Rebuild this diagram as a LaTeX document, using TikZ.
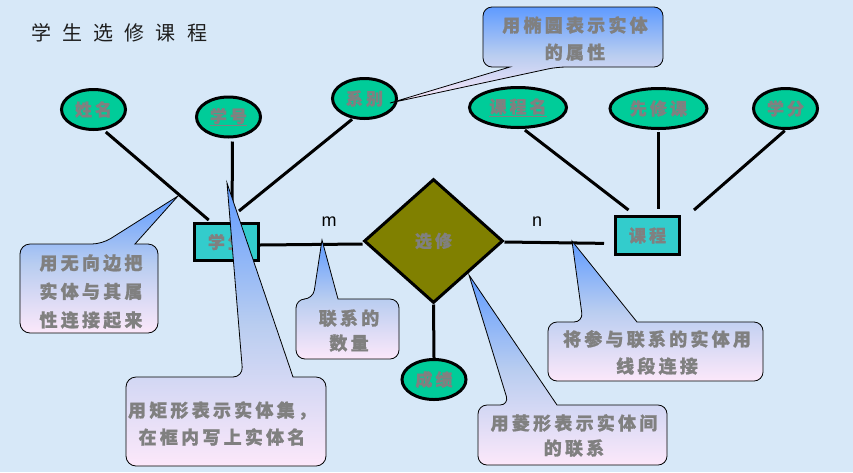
\documentclass[tikz,border=0pt]{standalone}
\usepackage{fontspec}
\usetikzlibrary{shapes.geometric}
\newfontfamily\cjkb[LetterSpace=18, BoldFeatures={FakeBold=1}]{Noto Sans CJK SC}
\newfontfamily\titlef[WordSpace=2.5]{Noto Sans CJK SC}
\newfontfamily\latf{Liberation Sans}
\definecolor{bg}{RGB}{215,232,248}
\definecolor{attr}{RGB}{0,204,153}
\definecolor{ent}{RGB}{51,204,204}
\definecolor{rel}{RGB}{128,128,0}
\definecolor{lab}{RGB}{128,128,128}
\definecolor{ctop}{RGB}{95,155,255}
\definecolor{cmid}{RGB}{185,205,240}
\definecolor{cbot}{RGB}{252,232,250}
\definecolor{titlec}{RGB}{30,30,30}
\begin{document}
\begin{tikzpicture}[x=1pt,y=-1pt,
  labfont/.style={text=lab, font=\cjkb\bfseries\fontsize{17}{20}\selectfont},
  attrnode/.style={ellipse, draw=black, line width=3pt, fill=attr, inner sep=0pt, minimum width=64pt, minimum height=40pt, labfont},
  entnode/.style={rectangle, draw=black, line width=3pt, fill=ent, inner sep=0pt, minimum width=64pt, minimum height=37pt, labfont},
  relnode/.style={diamond, draw=black, line width=3pt, fill=rel, inner sep=0pt, minimum width=139pt, minimum height=124pt, labfont},
  conn/.style={line width=3pt, black},
  callout/.style={draw=black, line width=0.8pt, top color=ctop, bottom color=cbot, middle color=cmid},
  calltext/.style={text=lab, font=\cjkb\bfseries\fontsize{18}{27}\selectfont, align=center, inner sep=0pt},
  cardtext/.style={font=\latf\fontsize{18}{20}\selectfont, inner sep=0pt}
]
\useasboundingbox (0,0) rectangle (853,472);
\fill[bg] (0,0) rectangle (853,472);

% title
\node[anchor=west, inner sep=0pt, text=titlec, font=\titlef\fontsize{20}{24}\selectfont] (title) at (31,33) {学 生 选 修 课 程};

% attributes
\node[attrnode] (xm) at (93.5,109.5) {姓名};
\node[attrnode] (xh) at (228.5,117) {\underline{学号}};
\node[attrnode] (xb) at (364.5,98.5) {系别};
\node[attrnode, minimum width=97pt] (km) at (518,107.5) {\underline{课程名}};
\node[attrnode, minimum width=97pt] (xx) at (658.5,108.5) {先修课};
\node[attrnode] (xf) at (785.5,108.5) {学分};
\node[attrnode] (cj) at (434,379.5) {成绩};

% entities and relationship
\node[entnode] (xs) at (226.5,242) {学生};
\node[entnode, minimum height=38pt] (kc) at (647.5,235.5) {课程};
\node[relnode] (xd) at (433.5,241) {选修};

% connectors
\draw[conn, shorten <=3pt, shorten >=3pt] (xm.-64) -- ([xshift=-15.5pt]xs.north);
\draw[conn, shorten <=3pt] ([xshift=4pt]xh.south) -- ([xshift=5.5pt]xs.north);
\draw[conn, shorten <=1pt] (xb.-120) -- ([xshift=12.5pt,yshift=11pt]xs.north);
\draw[conn] ([yshift=-3pt]xs.east) -- ([yshift=-3pt]xd.west);
\draw[conn, shorten >=10pt] ([yshift=-1pt]xd.east) -- ([yshift=-8pt]kc.west);
\draw[conn] (xd.south) -- (cj.north);
\draw[conn, shorten <=2pt] (km.-76) -- ([xshift=-19pt,yshift=5pt]kc.north);
\draw[conn, shorten <=2pt, shorten >=6pt] (xx.south) -- (xx.south |- kc.north);
\draw[conn, shorten <=1pt] (xf.south) -- ([xshift=13pt,yshift=5pt]kc.north east);

% cardinalities
\node[cardtext] (m) at (329,222) {m};
\node[cardtext] (n) at (537,222) {n};

% callout 1
\draw[callout] (573,7) [rounded corners=9pt] -- (663,7) -- (663,67) -- (557,67) [sharp corners] -- (390,103) -- (510,67) [rounded corners=9pt] -- (483,67) -- (483,7) -- cycle;
\node[calltext] (c1t) at (575,38.5) {用椭圆表示实体\\的属性};

% callout 2
\draw[callout] (20,290) [rounded corners=10pt] -- (20,244) -- (102,244) [sharp corners] -- (178,196) -- (135,244) [rounded corners=10pt] -- (158,244) -- (158,333) -- (20,333) -- cycle;
\node[calltext, font=\cjkb\bfseries\fontsize{18}{28.5}\selectfont] (c2t) at (91,291.5) {用无向边把\\实体与其属\\性连接起来};

% callout 3
\draw[callout] (126,420) [rounded corners=10pt] -- (126,377) -- (243,377) [sharp corners] -- (227,183) -- (293,377) [rounded corners=10pt] -- (326,377) -- (326,466) -- (126,466) -- cycle;
\node[calltext] (c3t) at (222,423.5) {用矩形表示实体集，\\在框内写上实体名};

% callout 4
\draw[callout] (296,330) [rounded corners=9pt] -- (296,299) -- (313,299) [sharp corners] -- (322,240) -- (338,299) [rounded corners=9pt] -- (399,299) -- (399,359) -- (296,359) -- cycle;
\node[calltext, font=\cjkb\bfseries\fontsize{18}{25}\selectfont] (c4t) at (349,330.5) {联系的\\数量};

% callout 5
\draw[callout] (548,350) [rounded corners=9pt] -- (548,322) -- (583,322) [sharp corners] -- (572,241) -- (637,322) [rounded corners=9pt] -- (763,322) -- (763,381) -- (548,381) -- cycle;
\node[calltext] (c5t) at (657,352.5) {将参与联系的实体用\\线段连接};

% callout 6
\draw[callout] (478,435) [rounded corners=9pt] -- (478,405) -- (509,405) [sharp corners] -- (469,275) -- (557,405) [rounded corners=9pt] -- (667,405) -- (667,465) -- (478,465) -- cycle;
\node[calltext, font=\cjkb\bfseries\fontsize{18}{25}\selectfont] (c6t) at (574,435.5) {用菱形表示实体间\\的联系};
\end{tikzpicture}
\end{document}
